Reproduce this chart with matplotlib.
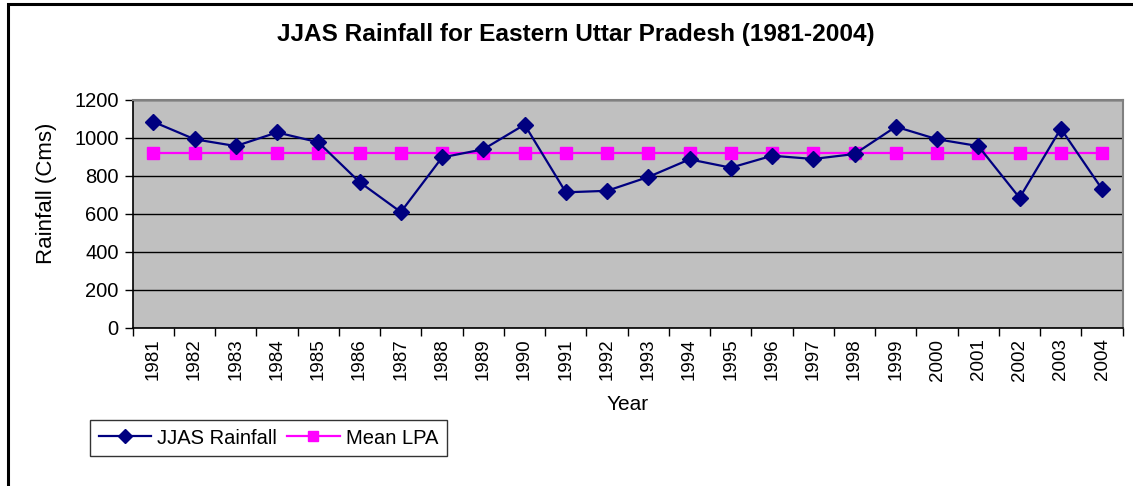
import matplotlib
matplotlib.use("Agg")
import matplotlib.pyplot as plt
from matplotlib.patches import Rectangle

years = [str(y) for y in range(1981, 2005)]
jjas_rainfall = [1085, 993, 957, 1029, 977, 767, 609, 897, 940, 1070,
                 713, 721, 794, 887, 843, 906, 889, 915, 1059, 993,
                 957, 684, 1049, 730]
mean_lpa = [922] * 24
y_ticks = [0, 200, 400, 600, 800, 1000, 1200]

plt.rcParams['font.family'] = ['Liberation Sans', 'DejaVu Sans']

W, H = 1133, 486
fig = plt.figure(figsize=(W / 100, H / 100), dpi=100)
fig.patch.set_facecolor('white')

# outer border
fig.patches.append(Rectangle((8 / W, -0.1), 1.2, 1 - 4 / H + 0.1,
                             transform=fig.transFigure, fill=False,
                             edgecolor='black', linewidth=2.2, zorder=0))

left, right, top, bottom = 132.7, 1122.7, 100, 327.5
ax = fig.add_axes([left / W, 1 - bottom / H, (right - left) / W, (bottom - top) / H])
ax.set_facecolor('#C0C0C0')

x = list(range(len(years)))
ax.plot(x, jjas_rainfall, color='#000080', marker='D', markersize=8,
        linewidth=1.6, label='JJAS Rainfall', zorder=4)
ax.plot(x, mean_lpa, color='#FF00FF', marker='s', markersize=8.5,
        linewidth=1.6, label='Mean LPA', zorder=3)

ax.set_xlim(-0.5, len(years) - 0.5)
ax.set_ylim(0, 1200)
ax.set_yticks(y_ticks)
ax.set_yticklabels([str(v) for v in y_ticks], fontsize=14.5)
ax.yaxis.grid(True, color='black', linewidth=1.0)
ax.set_axisbelow(True)

ax.set_xticks([i - 0.5 for i in range(len(years) + 1)])
ax.set_xticklabels([])
ax.set_xticks(x, minor=True)
ax.set_xticklabels(years, minor=True, rotation=90, fontsize=13.5)
ax.tick_params(axis='x', which='major', direction='out', length=6, width=1)
ax.tick_params(axis='x', which='minor', length=0, pad=8)
ax.tick_params(axis='y', direction='out', length=6, width=1, pad=4)

for s in ['left', 'bottom']:
    ax.spines[s].set_color('black')
    ax.spines[s].set_linewidth(1.2)
for s in ['top', 'right']:
    ax.spines[s].set_color('#808080')
    ax.spines[s].set_linewidth(1.5)

ax.set_ylabel('Rainfall (Cms)', fontsize=16, va='center')
ax.yaxis.set_label_coords((46.7 - left) / (right - left), (bottom - 193) / (bottom - top))
ax.set_xlabel('Year', fontsize=15, va='center')
ax.xaxis.set_label_coords(0.5, -(404 - bottom) / (bottom - top))

fig.text(576 / W, 1 - 34 / H, 'JJAS Rainfall for Eastern Uttar Pradesh (1981-2004)',
         ha='center', va='center', fontsize=17.6, fontweight='bold')

leg = fig.legend(loc='center', bbox_to_anchor=(268.5 / W, 1 - 438 / H),
                 ncol=2, fontsize=14.5, frameon=True, fancybox=False,
                 edgecolor='black', handlelength=2.6, columnspacing=0.5,
                 handletextpad=0.3, borderpad=0.42, markerscale=0.9)
leg.get_frame().set_linewidth(1.0)

fig.savefig('out.png', dpi=100, facecolor='white')
